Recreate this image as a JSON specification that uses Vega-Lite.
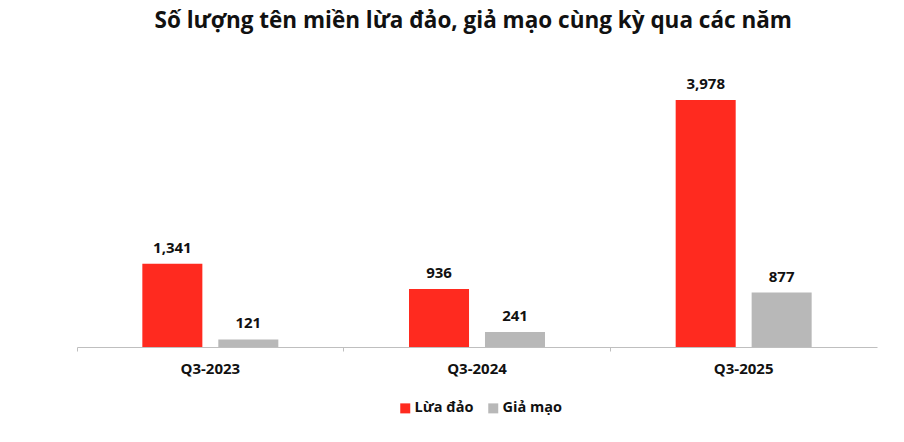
{
  "$schema": "https://vega.github.io/schema/vega-lite/v6.json",
  "width": 800,
  "height": 247,
  "padding": {"left": 77, "top": 100, "right": 27, "bottom": 95},
  "autosize": "none",
  "background": "white",
  "config": {"view": {"stroke": null}},
  "title": {
    "text": "Số lượng tên miền lừa đảo, giả mạo cùng kỳ qua các năm",
    "font": "Open Sans",
    "fontSize": 22.5,
    "fontWeight": "bold",
    "color": "#111111",
    "anchor": "start",
    "dx": 78,
    "offset": 45
  },
  "data": {
    "values": [
      {"quarter": "Q3-2023", "type": "Lừa đảo", "value": 1341},
      {"quarter": "Q3-2023", "type": "Giả mạo", "value": 121},
      {"quarter": "Q3-2024", "type": "Lừa đảo", "value": 936},
      {"quarter": "Q3-2024", "type": "Giả mạo", "value": 241},
      {"quarter": "Q3-2025", "type": "Lừa đảo", "value": 3978},
      {"quarter": "Q3-2025", "type": "Giả mạo", "value": 877}
    ]
  },
  "encoding": {
    "x": {
      "field": "quarter",
      "type": "nominal",
      "title": null,
      "scale": {"paddingInner": 0, "paddingOuter": 0},
      "axis": {
        "labelAngle": 0,
        "labelFont": "Open Sans",
        "labelFontSize": 15,
        "labelFontWeight": "bold",
        "labelColor": "#111111",
        "labelPadding": 10,
        "domainColor": "#bfbfbf",
        "tickColor": "#bfbfbf",
        "tickSize": 4,
        "bandPosition": 0
      }
    },
    "xOffset": {
      "field": "type",
      "sort": ["Lừa đảo", "Giả mạo"],
      "scale": {"paddingInner": 0.21, "paddingOuter": 0.86}
    },
    "y": {
      "field": "value",
      "type": "quantitative",
      "axis": null,
      "scale": {"domain": [0, 3978], "nice": false}
    }
  },
  "layer": [
    {
      "mark": {"type": "bar"},
      "encoding": {
        "color": {
          "field": "type",
          "type": "nominal",
          "sort": ["Lừa đảo", "Giả mạo"],
          "scale": {"domain": ["Lừa đảo", "Giả mạo"], "range": ["#ff2a1f", "#b8b8b8"]},
          "legend": {
            "title": null,
            "orient": "none",
            "direction": "horizontal",
            "legendX": 321,
            "legendY": 301,
            "symbolType": "square",
            "symbolSize": 100,
            "symbolStrokeWidth": 0,
            "labelOffset": 2,
            "labelFont": "Open Sans",
            "labelFontSize": 14.5,
            "labelFontWeight": "bold",
            "labelColor": "#111111",
            "columnPadding": 12
          }
        }
      }
    },
    {
      "mark": {
        "type": "text",
        "baseline": "bottom",
        "dy": -8,
        "font": "Open Sans",
        "fontSize": 15,
        "fontWeight": "bold",
        "color": "#111111"
      },
      "encoding": {
        "text": {"field": "value", "type": "quantitative", "format": ","}
      }
    }
  ]
}
